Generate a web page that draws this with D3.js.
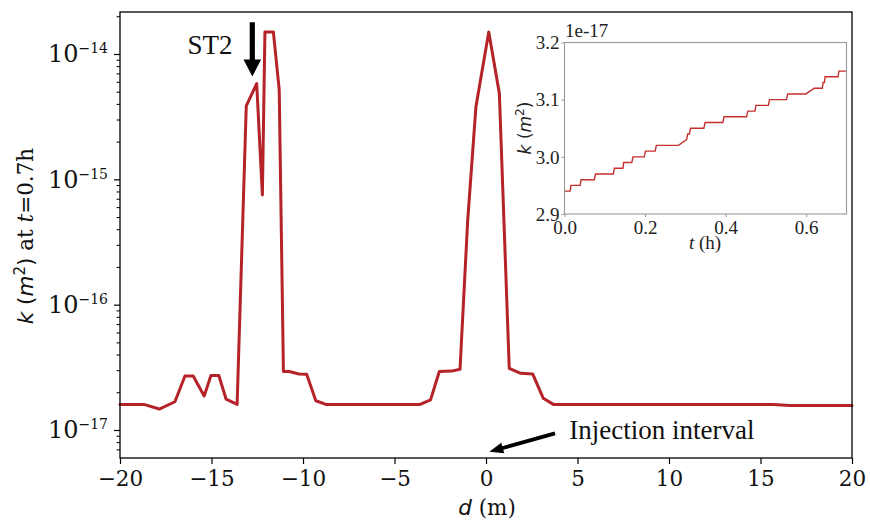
<!DOCTYPE html>
<html>
<head>
<meta charset="utf-8">
<script src="https://cdn.jsdelivr.net/npm/d3@7/dist/d3.min.js"></script>
<style>
  html, body { margin: 0; padding: 0; background: #fff; }
  svg { display: block; }
</style>
</head>
<body>
<svg id="chart" width="870" height="520"></svg>
<script>
// Permeability profile along the borehole at t = 0.7 h
const distance = [-20, -18.7, -17.85, -17.0, -16.45, -16.0, -15.4, -15.03, -14.6, -14.2,
  -13.6, -13.1, -12.53, -12.22, -12.08, -11.62, -11.3, -11.07, -10.75, -10.22,
  -9.8, -9.3, -8.75, -3.6, -3.03, -2.55, -1.88, -1.42, -1.0, -0.55,
  0.15, 0.73, 1.27, 1.9, 2.55, 3.13, 3.68, 15.7, 16.6, 20];
const permeability = [1.6e-17, 1.6e-17, 1.47e-17, 1.68e-17, 2.7e-17, 2.7e-17, 1.87e-17, 2.72e-17, 2.72e-17, 1.76e-17,
  1.6e-17, 3.85e-15, 5.8e-15, 7.5e-16, 1.5e-14, 1.5e-14, 5.2e-15, 2.93e-17, 2.93e-17, 2.8e-17,
  2.78e-17, 1.71e-17, 1.6e-17, 1.6e-17, 1.74e-17, 2.93e-17, 2.95e-17, 3.05e-17, 4.7e-16, 3.8e-15,
  1.5e-14, 4.85e-15, 3.1e-17, 2.83e-17, 2.8e-17, 1.79e-17, 1.6e-17, 1.6e-17, 1.57e-17, 1.57e-17];

// Axis ticks
const xTicks = [-20, -15, -10, -5, 0, 5, 10, 15, 20];
const yDecades = [-17, -16, -15, -14];

// Inset: permeability history at the monitored point (units of 1e-17 m^2)
const insetTime = [0, 0.014, 0.016, 0.039, 0.041, 0.074, 0.077, 0.121, 0.124, 0.145,
  0.147, 0.167, 0.170, 0.198, 0.201, 0.225, 0.228, 0.283, 0.303, 0.306,
  0.310, 0.313, 0.346, 0.349, 0.393, 0.396, 0.452, 0.455, 0.473, 0.475,
  0.506, 0.509, 0.551, 0.554, 0.599, 0.620, 0.640, 0.642, 0.645, 0.647,
  0.679, 0.681, 0.7];
const insetK = [2.94, 2.94, 2.95, 2.95, 2.96, 2.96, 2.97, 2.97, 2.98, 2.98,
  2.99, 2.99, 3.00, 3.00, 3.01, 3.01, 3.02, 3.02, 3.03, 3.04,
  3.04, 3.05, 3.05, 3.06, 3.06, 3.07, 3.07, 3.08, 3.08, 3.09,
  3.09, 3.10, 3.10, 3.11, 3.11, 3.12, 3.12, 3.13, 3.13, 3.14,
  3.14, 3.15, 3.15];
const insetXTicks = [0.0, 0.2, 0.4, 0.6];
const insetYTicks = [2.9, 3.0, 3.1, 3.2];

// Annotation anchors in data coordinates
const st2Arrow = { d: -12.77, kTip: 6.6e-15, kTail: 1.79e-14 };
const st2Label = { d: -13.85, k: 1.0e-14, text: "ST2" };
const injArrow = { dTip: 0.18, kTip: 6.7e-18, dTail: 3.77, kTail: 9.4e-18 };
const injLabel = { d: 4.55, k: 8.4e-18, text: "Injection interval" };

const svg = d3.select("#chart");
const RED = "#b52228";
const SERIF = "'DejaVu Serif', serif";
const TIMES = "'Liberation Serif', 'Times New Roman', serif";
const SANS = "'DejaVu Sans', sans-serif";

const x = d3.scaleLinear().domain([-20, 20]).range([120, 852]);
const y = d3.scaleLog().domain([Math.pow(10, -17.2235), Math.pow(10, -13.665)]).range([458, 12]);

// Minor log ticks inside the domain
const [yLo, yHi] = y.domain();
const yMinor = [];
for (let e = -18; e <= -14; e++) {
  for (let m = 2; m <= 9; m++) {
    const v = m * Math.pow(10, e);
    if (v > yLo * 1.01 && v < yHi) yMinor.push(v);
  }
}

// X axis
const gx = svg.append("g").attr("transform", "translate(0,458)")
  .call(d3.axisBottom(x).tickValues(xTicks).tickSize(6).tickPadding(6)
    .tickFormat(d => d < 0 ? "\u2212" + Math.abs(d) : String(d)));
gx.select(".domain").remove();
gx.selectAll("line").attr("stroke", "#000").attr("stroke-width", 1.2);
gx.selectAll("text").attr("font-family", SERIF).attr("font-size", 21.5).attr("fill", "#111")
  .attr("dy", "0.74em");

// Y axis: majors and minors
const gy = svg.append("g").attr("transform", "translate(120,0)")
  .call(d3.axisLeft(y).tickValues(yDecades.map(e => Math.pow(10, e))).tickSize(6).tickFormat(""));
gy.select(".domain").remove();
gy.selectAll("line").attr("stroke", "#000").attr("stroke-width", 1.2);
const gyMinor = svg.append("g").attr("transform", "translate(120,0)")
  .call(d3.axisLeft(y).tickValues(yMinor).tickSize(3.5).tickFormat(""));
gyMinor.select(".domain").remove();
gyMinor.selectAll("line").attr("stroke", "#000").attr("stroke-width", 1);

const yLab = svg.append("g");
yDecades.forEach(e => {
  const t = yLab.append("text")
    .attr("x", 108).attr("y", y(Math.pow(10, e)) + 8.5)
    .attr("text-anchor", "end").attr("font-family", SERIF).attr("fill", "#111");
  t.append("tspan").attr("font-size", 24).text("10");
  t.append("tspan").attr("font-size", 14).attr("dy", -9).text("\u2212" + Math.abs(e));
});

// Profile line
const line = d3.line().x((d, i) => x(distance[i])).y((d, i) => y(permeability[i]));
svg.append("path").datum(permeability)
  .attr("d", line).attr("fill", "none").attr("stroke", RED)
  .attr("stroke-width", 3).attr("stroke-linejoin", "round").attr("stroke-linecap", "round");

// Frame
svg.append("rect").attr("x", 120).attr("y", 12).attr("width", 732).attr("height", 446)
  .attr("fill", "none").attr("stroke", "#000").attr("stroke-width", 1.3);

// Axis titles
const xt = svg.append("text").attr("x", 487).attr("y", 515).attr("text-anchor", "middle")
  .attr("font-size", 21.5).attr("fill", "#111");
xt.append("tspan").attr("font-family", SANS).attr("font-style", "italic").text("d");
xt.append("tspan").attr("font-family", SERIF).text(" (m)");

const yt = svg.append("text").attr("transform", "translate(33,236) rotate(-90)")
  .attr("text-anchor", "middle").attr("font-size", 21.5).attr("fill", "#111");
yt.append("tspan").attr("font-family", SANS).attr("font-style", "italic").text("k");
yt.append("tspan").attr("font-family", SANS).text(" (");
yt.append("tspan").attr("font-family", SANS).attr("font-style", "italic").text("m");
yt.append("tspan").attr("font-family", SANS).attr("font-size", 15).attr("dy", -8).text("2");
yt.append("tspan").attr("font-family", SANS).attr("dy", 8).text(")");
yt.append("tspan").attr("font-family", SERIF).text(" at ");
yt.append("tspan").attr("font-family", SERIF).attr("font-style", "italic").text("t");
yt.append("tspan").attr("font-family", SERIF).text("=0.7h");

// Arrow polygon helper (tail -> tip)
function arrowPath(x0, y0, x1, y1, shaftHalf, headHalf, headLen) {
  const dx = x1 - x0, dy = y1 - y0, L = Math.hypot(dx, dy);
  const ux = dx / L, uy = dy / L, nx = -uy, ny = ux;
  const bx = x1 - ux * headLen, by = y1 - uy * headLen;
  const p = [
    [x0 + nx * shaftHalf, y0 + ny * shaftHalf],
    [bx + nx * shaftHalf, by + ny * shaftHalf],
    [bx + nx * headHalf, by + ny * headHalf],
    [x1, y1],
    [bx - nx * headHalf, by - ny * headHalf],
    [bx - nx * shaftHalf, by - ny * shaftHalf],
    [x0 - nx * shaftHalf, y0 - ny * shaftHalf]
  ];
  return "M" + p.map(q => q.join(",")).join("L") + "Z";
}

svg.append("path")
  .attr("d", arrowPath(x(st2Arrow.d), y(st2Arrow.kTail), x(st2Arrow.d), y(st2Arrow.kTip), 2.6, 8.8, 17))
  .attr("fill", "#000");
svg.append("text").attr("x", x(st2Label.d)).attr("y", y(st2Label.k))
  .attr("text-anchor", "end").attr("font-family", TIMES).attr("font-size", 27).attr("fill", "#111")
  .text(st2Label.text);

svg.append("path")
  .attr("d", arrowPath(x(injArrow.dTail), y(injArrow.kTail), x(injArrow.dTip), y(injArrow.kTip), 1.9, 5.5, 14))
  .attr("fill", "#000");
svg.append("text").attr("x", x(injLabel.d)).attr("y", y(injLabel.k))
  .attr("font-family", TIMES).attr("font-size", 27).attr("fill", "#111")
  .text(injLabel.text);

// Inset
const ix = d3.scaleLinear().domain([0, 0.7]).range([564.5, 846.5]);
const iy = d3.scaleLinear().domain([2.9, 3.2]).range([214, 42.5]);
const inset = svg.append("g");
inset.append("rect").attr("x", 564.5).attr("y", 42.5).attr("width", 282).attr("height", 171.5)
  .attr("fill", "#fff");

const igx = inset.append("g").attr("transform", "translate(0,214)")
  .call(d3.axisBottom(ix).tickValues(insetXTicks).tickSize(3).tickPadding(3).tickFormat(d3.format(".1f")));
igx.select(".domain").remove();
igx.selectAll("line").attr("stroke", "#999");
igx.selectAll("text").attr("font-family", TIMES).attr("font-size", 19).attr("fill", "#222")
  .attr("dy", "0.72em");

const igy = inset.append("g").attr("transform", "translate(564.5,0)")
  .call(d3.axisLeft(iy).tickValues(insetYTicks).tickSize(3).tickPadding(2).tickFormat(d3.format(".1f")));
igy.select(".domain").remove();
igy.selectAll("line").attr("stroke", "#999");
igy.selectAll("text").attr("font-family", TIMES).attr("font-size", 19).attr("fill", "#222")
  .attr("dy", "0.33em");

const iline = d3.line().x((d, i) => ix(insetTime[i])).y((d, i) => iy(insetK[i]));
inset.append("path").datum(insetK).attr("d", iline)
  .attr("fill", "none").attr("stroke", "#c3302f").attr("stroke-width", 1.4);

inset.append("rect").attr("x", 564.5).attr("y", 42.5).attr("width", 282).attr("height", 171.5)
  .attr("fill", "none").attr("stroke", "#999").attr("stroke-width", 1.1);

inset.append("text").attr("x", 565).attr("y", 36.5).attr("font-family", TIMES)
  .attr("font-size", 19).attr("fill", "#222").text("1e-17");

const itx = inset.append("text").attr("x", 705).attr("y", 248.5).attr("text-anchor", "middle")
  .attr("font-family", TIMES).attr("font-size", 19).attr("fill", "#222");
itx.append("tspan").attr("font-style", "italic").text("t");
itx.append("tspan").text(" (h)");

const ity = inset.append("text").attr("transform", "translate(531,128) rotate(-90)")
  .attr("text-anchor", "middle").attr("font-family", SANS).attr("font-size", 17).attr("fill", "#222");
ity.append("tspan").attr("font-style", "italic").text("k");
ity.append("tspan").text(" (");
ity.append("tspan").attr("font-style", "italic").text("m");
ity.append("tspan").attr("font-size", 12).attr("dy", -7).text("2");
ity.append("tspan").attr("dy", 7).text(")");
</script>
</body>
</html>
